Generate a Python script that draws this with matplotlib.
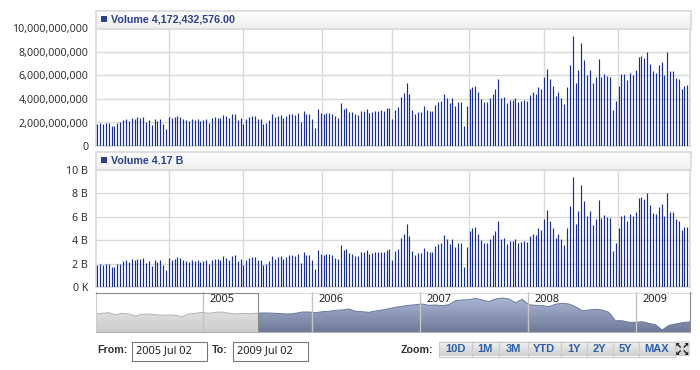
import numpy as np
import matplotlib
matplotlib.use("Agg")
import matplotlib.pyplot as plt
from matplotlib.colors import LinearSegmentedColormap
from matplotlib.patches import Rectangle

# Weekly volume, in billions
volume = [
    1.87, 1.93, 1.87, 1.93, 1.93, 1.73, 1.70, 1.95, 2.0, 2.24,
    2.27, 2.1, 2.38, 2.29, 2.43, 2.38, 2.49, 2.07, 2.2, 1.78,
    2.29, 2.15, 2.27, 1.87, 1.45, 2.46, 2.35, 2.43, 2.58, 2.46,
    2.32, 2.2, 2.12, 2.27, 2.24, 2.27, 2.12, 2.18, 2.29, 1.98,
    2.35, 2.43, 2.4, 2.35, 2.66, 2.52, 2.35, 2.69, 2.72, 2.24,
    2.38, 1.84, 2.29, 2.49, 2.58, 2.58, 2.29, 2.32, 1.84, 1.98, 2.2,
    2.69, 2.43, 2.58, 2.63, 2.38, 2.55, 2.72, 2.72, 2.66, 2.78,
    2.07, 3.0, 2.72, 2.72, 2.32, 1.53, 3.12, 2.83, 2.72, 2.78,
    2.78, 2.72, 2.52, 2.38, 3.63, 3.12, 3.23, 2.89, 2.86, 2.69,
    2.63, 3.0, 3.0, 3.12, 2.8, 2.92, 3.0, 2.95, 3.03, 2.97,
    3.2, 3.26, 2.29, 3.06, 3.29, 4.16, 4.53, 5.35, 4.39, 3.06,
    2.72, 2.89, 2.89, 3.37, 3.06, 3.0, 2.95, 3.48, 3.71,
    3.8, 4.43, 4.09, 3.69, 4.11, 3.4, 3.72, 3.74, 1.67, 3.4,
    4.82, 5.02, 5.13, 4.57, 4.03, 3.74, 3.72, 4.06, 4.43, 4.82,
    5.67, 4.09, 4.2, 3.66, 3.89, 3.94, 4.09, 3.72, 3.83, 3.91,
    3.83, 4.34, 4.57, 4.45, 5.05, 4.85, 5.84, 6.55, 5.67, 5.08,
    4.23, 4.57, 4.09, 3.57,
    5.05, 6.89, 9.36, 5.36, 6.47, 8.74, 7.35, 6.07, 6.5, 5.33,
    5.84, 7.4, 5.87, 6.13, 5.96, 5.87, 3.09, 3.8, 5.08, 6.1,
    6.13, 5.62, 6.24, 6.04, 6.44, 7.57, 7.66, 7.49, 8.0, 6.98,
    6.35, 6.24, 6.87, 7.12, 6.07, 8.0, 6.38, 6.38, 5.79, 5.67,
    4.88, 5.13, 5.16,
]
# half-year gridlines, in weeks from the first bar
grid_weeks = [25, 50.9, 78.4, 103, 129.8, 156, 181.8]

y_ticks = [0, 2, 4, 6, 8, 10]
y_labels_full = ["0", "2,000,000,000", "4,000,000,000", "6,000,000,000", "8,000,000,000", "10,000,000,000"]
y_labels_short = ["0 K", "2 B", "4 B", "6 B", "8 B", "10 B"]

# Navigator overview series, 2004.0 to mid 2009
nav_values = [
    18.0, 18.7, 19.3, 17.3, 18.7, 18.0, 16.0, 17.7, 18.0, 17.3,
    16.7, 17.0, 16.7, 15.3, 18.0, 18.7, 19.7, 18.7, 19.7, 20.0,
    18.7, 18.0, 18.7, 18.3, 18.7, 19.0, 19.0, 18.7, 18.3, 18.0,
    18.7, 20.0, 20.0, 19.3, 20.3, 20.7, 21.7, 22.0, 23.0, 20.7,
    20.3, 19.7, 21.0, 22.0, 23.3, 24.7, 25.7, 26.7, 27.3, 28.0,
    26.7, 27.0, 26.3, 27.3, 31.3, 32.0, 32.3, 33.7, 32.0, 30.3,
    33.0, 34.0, 33.0, 29.3, 32.7, 27.3, 26.7, 26.3, 25.3, 27.7,
    28.7, 28.0, 25.3, 21.3, 22.0, 22.7, 22.0, 19.7, 11.3, 11.3,
    9.7, 9.7, 10.3, 8.7, 7.3, 2.0, 6.7, 8.0, 9.3, 10.0,
]
nav_years = [2005, 2006, 2007, 2008, 2009]

range_from = "2005 Jul 02"
range_to = "2009 Jul 02"
zoom_labels = ["10D", "1M", "3M", "YTD", "1Y", "2Y", "5Y", "MAX"]

W, H = 700, 370
FONT = "Noto Sans"
BOLD = "Liberation Sans"
BLUE = "#182f8e"
GRID = "#d8dcd8"
FRAME = "#dcdcdc"

plt.rcParams["font.family"] = FONT
fig = plt.figure(figsize=(W / 100, H / 100), dpi=100, facecolor="white")


def px_axes(x0, y0, x1, y1, **kw):
    return fig.add_axes([x0 / W, 1 - y1 / H, (x1 - x0) / W, (y1 - y0) / H], **kw)


def gradient(ax, x0, y0, x1, y1, c_top, c_bot, zorder=1):
    cmap = LinearSegmentedColormap.from_list("g", [c_top, c_bot])
    return ax.imshow(np.linspace(0, 1, 64)[:, None], cmap=cmap, aspect="auto",
                     extent=[x0, x1, y1, y0], zorder=zorder, interpolation="bilinear")


# page-level layer for headers, inputs and buttons
ui = px_axes(0, 0, W, H, zorder=5)
ui.set_xlim(0, W)
ui.set_ylim(H, 0)
ui.axis("off")
ui.patch.set_alpha(0)

weeks = np.arange(len(volume))
week_px = 590 / (len(volume) - 1)


def volume_panel(top, bottom, labels, header):
    ax = px_axes(96, top + 18, 690, bottom)
    ax.vlines(weeks, 0, np.array(volume) * 1e9, color=BLUE, lw=0.85, zorder=3)
    ax.set_xlim(-1.3 / week_px, (690 - 97.3) / week_px)
    span = bottom - (top + 18)
    ax.set_ylim(0, 10e9 * span / (span - 0.5))
    ax.set_yticks([t * 1e9 for t in y_ticks])
    ax.set_yticklabels(labels, fontsize=7.7, color="#333333")
    ax.set_xticks(grid_weeks)
    ax.set_xticklabels([])
    ax.tick_params(length=0, pad=5.5)
    ax.grid(True, color=GRID, lw=1.0)
    ax.set_axisbelow(True)
    for s in ax.spines.values():
        s.set_color(FRAME)
        s.set_linewidth(1.3)
    # header strip above the plot
    gradient(ui, 96, top + 1, 690, top + 18, "#ffffff", "#efefef")
    ui.add_patch(Rectangle((95.5, top + 0.5), 595, 18, fc="none", ec=FRAME, lw=1.3, zorder=2))
    ui.add_patch(Rectangle((101, top + 5.5), 6, 6, fc="#2b3f8f", ec="none", zorder=3))
    ui.text(111, top + 9, header, fontsize=7.65, fontweight="bold", family=BOLD, color="#2b3f8f",
            va="center", ha="left", zorder=3)


volume_panel(10, 146, y_labels_full, "Volume 4,172,432,576.00")
volume_panel(151.5, 287, y_labels_short, "Volume 4.17 B")

# navigator
nav = px_axes(95.5, 292, 690.5, 332)
nav.set_xticks([])
nav.set_yticks([])
for s in nav.spines.values():
    s.set_visible(False)
nav_x = np.arange(len(nav_values)) * 20 / 3
nav_x = np.append(nav_x, 595)
nav_y = np.append(nav_values, nav_values[-1])
sel_x = 257.5 - 95.5

for x0, x1, c_top, c_bot, c_line in [
    (0, sel_x, "#ededed", "#cdcdcd", "#b4b4b4"),
    (sel_x, 595, "#aebbd8", "#6f7a98", "#6c7a9e"),
]:
    img = nav.imshow(np.linspace(0, 1, 64)[:, None],
                     cmap=LinearSegmentedColormap.from_list("g", [c_top, c_bot]),
                     aspect="auto", extent=[x0, x1, 0, 36], zorder=1)
    keep = (nav_x >= x0 - 7) & (nav_x <= x1 + 7)
    poly = nav.fill_between(nav_x[keep], 0, nav_y[keep], color="none")
    img.set_clip_path(poly.get_paths()[0], nav.transData)
    clip_rect = Rectangle((x0, 0), x1 - x0, 40, transform=nav.transData)
    line, = nav.plot(nav_x[keep], nav_y[keep], color=c_line, lw=0.7, zorder=2)
    line.set_clip_path(clip_rect)
nav.set_xlim(0, 595)
nav.set_ylim(0, 40)

for yr in nav_years:
    x = (yr - 2005) * 108.25 + 203.3 - 95.5
    nav.axvline(x, color="#c4c4c4", lw=1.0, zorder=3)
    nav.text(x + 6.5, 32.5, str(yr), fontsize=7.9, color="#222222", va="center", ha="left", zorder=4)

# navigator frame: light on top, dark around the unselected part
ui.plot([257.5, 690.5], [292.5, 292.5], color=FRAME, lw=0.8, zorder=2)
ui.plot([690, 690], [292, 332], color="#8a8a8a", lw=0.8, zorder=2)
ui.plot([95.5, 95.5], [292, 332], color="#d0d0d0", lw=0.8, zorder=2)
ui.plot([95.5, 257.5, 257.5], [292.5, 292.5, 332], color="#8a8a8a", lw=0.8, zorder=2)
ui.plot([96, 690], [332, 332], color="#b0b0b0", lw=0.8, zorder=2)

# range inputs
ui.text(97, 350, "From:", fontsize=7.65, fontweight="bold", family=BOLD, color="#333333", va="center")
ui.add_patch(Rectangle((131.5, 341.5), 75, 19, fc="white", ec="#777777", lw=0.8))
ui.text(136, 350.5, range_from, fontsize=7.9, color="#222222", va="center")
ui.text(212, 350, "To:", fontsize=7.65, fontweight="bold", family=BOLD, color="#333333", va="center")
ui.add_patch(Rectangle((232.5, 341.5), 75, 19, fc="white", ec="#777777", lw=0.8))
ui.text(237, 350.5, range_to, fontsize=7.9, color="#222222", va="center")

# zoom buttons
ui.text(433, 350, "Zoom:", fontsize=7.65, fontweight="bold", family=BOLD, color="#333333", va="center", ha="right")
edges = [438.5, 471.5, 499, 527.5, 560.5, 586.5, 612.5, 638.5, 674.5]
for lab, x0, x1 in zip(zoom_labels, edges[:-1], edges[1:]):
    gradient(ui, x0, 341.5, x1, 356.5, "#f2f2f2", "#cfcfcf")
    ui.add_patch(Rectangle((x0, 341.5), x1 - x0, 15, fc="none", ec="#cccccc", lw=0.8, zorder=2))
    ui.text((x0 + x1) / 2, 349, lab, fontsize=8.0, fontweight="bold", family=BOLD, color="#2f5fa8",
            va="center", ha="center", zorder=3)

# fullscreen icon
gradient(ui, 675, 341.5, 689.5, 356.5, "#e4e4e4", "#d0d0d0")
cx, cy = 682.2, 349
for sx, sy in [(-1, -1), (1, -1), (-1, 1), (1, 1)]:
    ui.fill([cx + sx * 6, cx + sx * 2.5, cx + sx * 6], [cy + sy * 6, cy + sy * 6, cy + sy * 2.5], color="#222222", lw=0, zorder=3)
    ui.plot([cx + sx * 5, cx + sx * 2], [cy + sy * 5, cy + sy * 2], color="#222222", lw=1.0, zorder=3)

ui.set_xlim(0, W)
ui.set_ylim(H, 0)

fig.savefig("out.png", dpi=100)
